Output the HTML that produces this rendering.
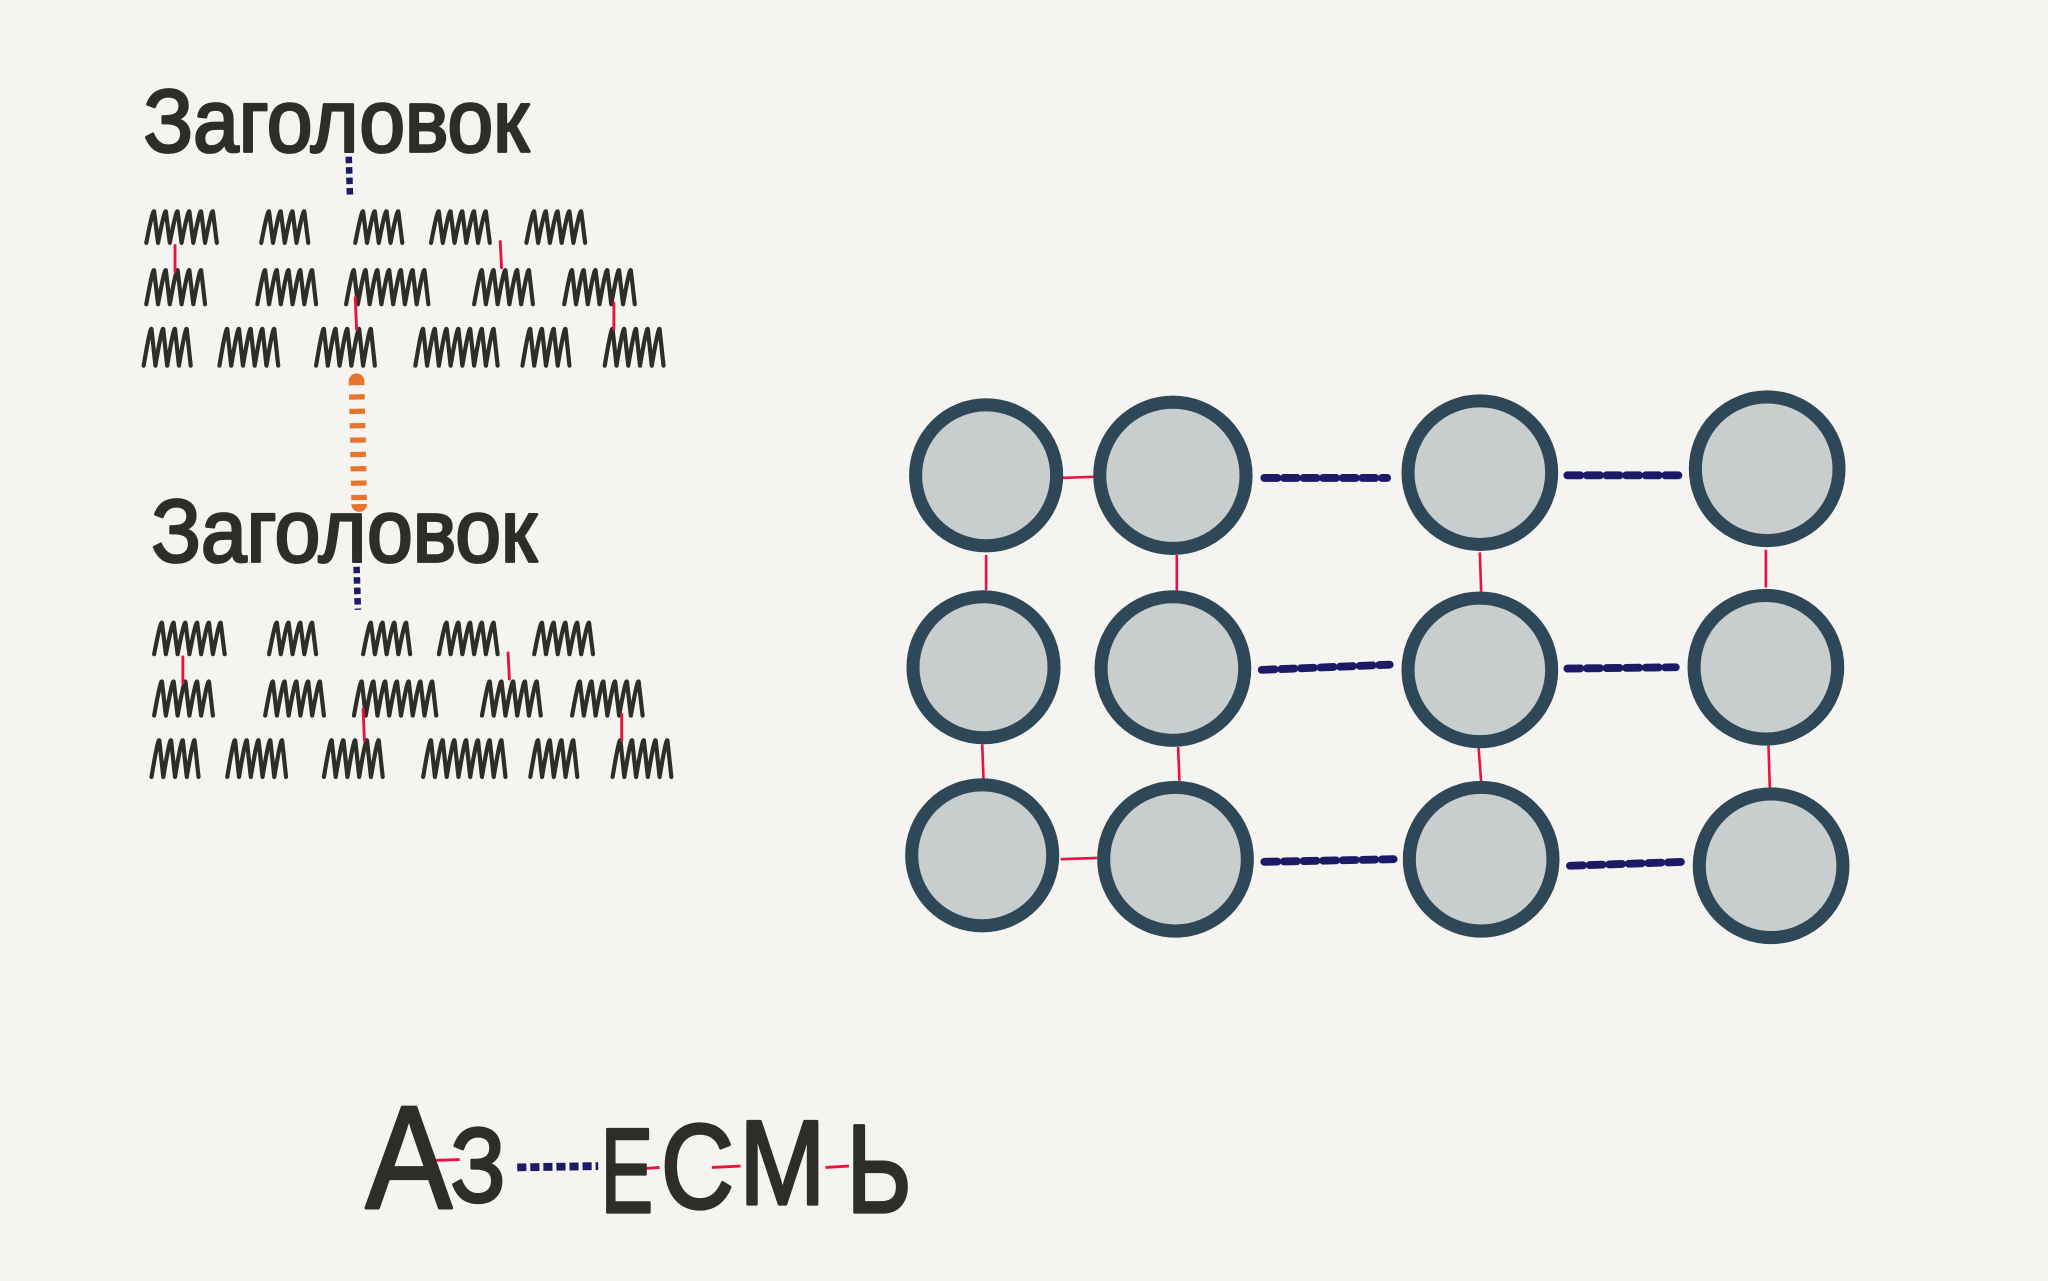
<!DOCTYPE html>
<html><head><meta charset="utf-8"><style>
html,body{margin:0;padding:0;background:#f5f4f1;}
svg{display:block;}
</style></head><body>
<svg id="s" width="2048" height="1281" viewBox="0 0 1568 981" preserveAspectRatio="none" xmlns="http://www.w3.org/2000/svg">
<rect width="1568" height="981" fill="#f5f4f1"/>
<g font-family="Liberation Sans, DejaVu Sans, sans-serif" fill="#2f2d2a" stroke="#2f2d2a" stroke-width="2.2" stroke-linejoin="round">
<text x="110" y="116" font-size="68" textLength="295" lengthAdjust="spacingAndGlyphs">Заголовок</text>
<text x="116" y="430" font-size="68" textLength="295" lengthAdjust="spacingAndGlyphs">Заголовок</text>
</g>
<g id="scr" fill="none" stroke="#2f2d2a" stroke-width="3.2" stroke-linecap="round" stroke-linejoin="round"></g>
<g stroke="#e8133f" stroke-width="2.2" stroke-linecap="round" fill="none">
<path d="M134 188 L134 208"/><path d="M383 185 L384 205"/><path d="M272 228 L273 252"/><path d="M470 232 L470 252"/>
<path d="M140 503 L140 523"/><path d="M389 500 L390 520"/><path d="M278 543 L279 567"/><path d="M476 547 L476 567"/>
</g>
<g stroke="#1c1a66" stroke-width="5" stroke-dasharray="5 3" stroke-linecap="butt" fill="none">
<path d="M267 120 L268 152"/><path d="M273 434 L274 467"/>
</g>
<path d="M273 292 L275 386" stroke="#e8742c" stroke-width="12" stroke-linecap="round"/>
<path d="M273 292 L275 386" stroke="#f5f4f1" stroke-width="13" stroke-dasharray="7 4" stroke-dashoffset="-3"/>
<g stroke="#e8133f" stroke-width="2" fill="none">
<path d="M812 366 L842 365"/><path d="M812 658 L840 657"/>
<path d="M755 425 L755 452"/><path d="M901 425 L901 453"/><path d="M1133 423 L1134 453"/><path d="M1352 421 L1352 450"/>
<path d="M752 570 L753 597"/><path d="M902 572 L903 598"/><path d="M1132 572 L1134 599"/><path d="M1354 571 L1355 603"/>
</g>
<g stroke="#1c1a66" stroke-width="6" stroke-dasharray="10 5" stroke-linecap="round" fill="none">
<path d="M968 366 L1062 366"/><path d="M1200 364 L1286 364"/>
<path d="M966 513 L1064 509"/><path d="M1200 512 L1283 511"/>
<path d="M968 660 L1067 658"/><path d="M1202 663 L1290 660"/>
</g>
<g fill="#c8cdcd" stroke="#2f4858" stroke-width="10">
<circle cx="755" cy="364" r="54"/><circle cx="898" cy="364" r="56"/><circle cx="1133" cy="362" r="55"/><circle cx="1353" cy="359" r="55"/>
<circle cx="753" cy="511" r="54"/><circle cx="898" cy="512" r="55"/><circle cx="1133" cy="513" r="55"/><circle cx="1352" cy="511" r="55"/>
<circle cx="752" cy="655" r="54"/><circle cx="900" cy="658" r="55"/><circle cx="1134" cy="658" r="55"/><circle cx="1356" cy="663" r="55"/>
</g>
<g stroke="#e8133f" stroke-width="2.2" fill="none">
<path d="M323 889 L352 888"/><path d="M492 895 L505 894"/><path d="M545 894 L567 893"/><path d="M632 894 L650 893"/>
</g>
<path d="M396 894 L458 893" stroke="#1c1a66" stroke-width="6" stroke-dasharray="7 3" fill="none"/>
<g font-family="Liberation Sans, DejaVu Sans, sans-serif" fill="#2f2d2a" stroke="#2f2d2a" stroke-width="2.5" stroke-linejoin="round" font-size="112">
<text x="280" y="925" textLength="66" lengthAdjust="spacingAndGlyphs">А</text>
<text x="345" y="920" font-size="80" textLength="42" lengthAdjust="spacingAndGlyphs">З</text>
<text x="460" y="928" font-size="92" textLength="40" lengthAdjust="spacingAndGlyphs">Е</text>
<text x="506" y="925" font-size="92" textLength="56" lengthAdjust="spacingAndGlyphs">С</text>
<text x="566" y="922" font-size="92" textLength="66" lengthAdjust="spacingAndGlyphs">М</text>
<text x="648" y="928" font-size="96" textLength="50" lengthAdjust="spacingAndGlyphs">Ь</text>
</g>
</svg>
<script>
var words=[
[160,188,[[112,165],[200,238],[272,307],[330,375],[403,452]]],
[205,235,[[112,155],[197,242],[265,330],[363,407],[432,485]]],
[250,282,[[110,148],[168,218],[242,290],[318,378],[400,437],[463,505]]]];
var g=document.getElementById('scr'),d='';
[0,315].forEach(function(oy,bi){var ox=bi?6:0;
words.forEach(function(r){r[2].forEach(function(w){
var x=w[0]+ox,y0=r[0]+oy+2,y1=r[1]+oy-2,p=9,sl=5,s='M'+x+' '+y1;
for(var xx=x;xx<w[1]+ox-sl;xx+=p){s+=' Q'+(xx+sl)+' '+(y0-2)+' '+(xx+sl+1)+' '+y0+' L'+(xx+p)+' '+y1;}
d+=s+' ';});});});
var pa=document.createElementNS('http://www.w3.org/2000/svg','path');pa.setAttribute('d',d);g.appendChild(pa);
</script>
</body></html>
